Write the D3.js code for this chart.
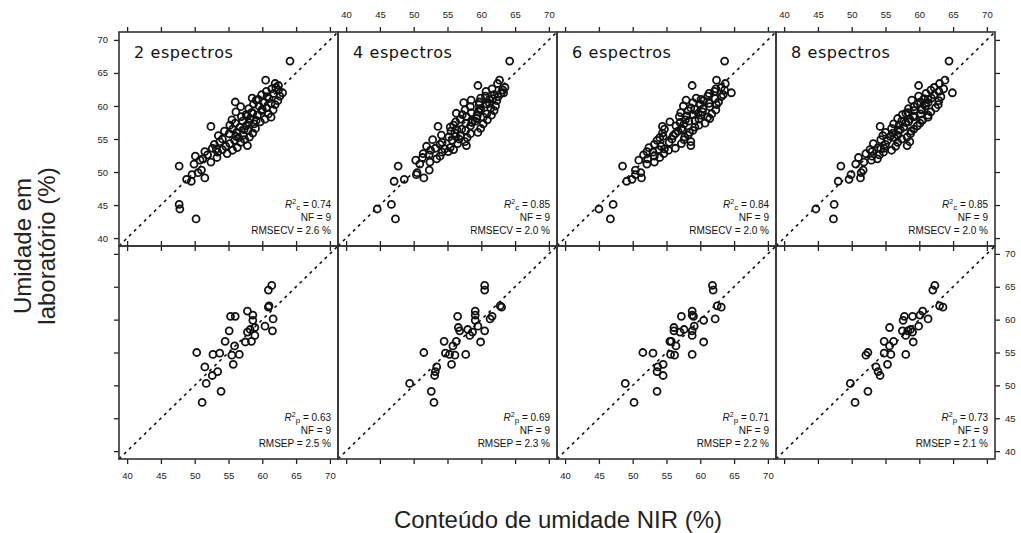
<!DOCTYPE html>
<html lang="pt">
<head>
  <meta charset="UTF-8">
  <title>Umidade NIR vs laboratório</title>
  <script src="https://d3js.org/d3.v7.min.js"></script>
  <style>
    body { margin: 0; background: #fff; }
    .tick line { stroke: #222; stroke-width: 1.3; }
    .tick text { font-family: "Liberation Sans", Arial, sans-serif; font-size: 9.5px; fill: #222; }
    .frame { fill: none; stroke: #333; stroke-width: 1.6; }
    .diag { stroke: #111; stroke-width: 1.6; stroke-dasharray: 3 4; }
    .pt { fill: none; stroke: #111; stroke-width: 1.8; }
    .panel-label { font-family: "DejaVu Sans", sans-serif; font-size: 16px; letter-spacing: 0.6px; fill: #111; }
    .stat { font-family: "Liberation Sans", Arial, sans-serif; font-size: 10px; fill: #111; text-anchor: end; }
    .axis-title { font-family: "Liberation Sans", Arial, sans-serif; font-size: 24px; fill: #222; text-anchor: middle; }
  </style>
</head>
<body>
  <div id="chart"></div>
  <script>
    // calibration set: lab moisture and NIR prediction for 2, 4, 6 and 8 spectra
    const labCal = [42.9, 44.4, 45.1, 48.6, 48.9, 49.1, 49.6, 49.9, 50.3, 50.9,
                    51.2, 51.5, 51.8, 52.0, 52.2, 52.4, 52.6, 52.8, 53.0, 53.1,
                    53.3, 53.4, 53.6, 53.7, 53.9, 54.0, 54.2, 54.3, 54.5, 54.6,
                    54.8, 54.9, 55.0, 55.2, 55.3, 55.5, 55.6, 55.8, 55.9, 56.0,
                    56.2, 56.3, 56.5, 56.6, 56.8, 56.9, 57.0, 57.1, 57.3, 57.4,
                    57.6, 57.7, 57.9, 58.0, 58.1, 58.3, 58.4, 58.6, 58.7, 58.8,
                    59.0, 59.1, 59.3, 59.4, 59.6, 59.7, 59.9, 60.0, 60.2, 60.3,
                    60.5, 60.6, 60.8, 60.9, 61.1, 61.2, 61.4, 61.5, 61.7, 61.9,
                    62.0, 62.2, 62.4, 62.6, 62.8, 63.1, 63.4, 63.9, 66.8, 55.4,
                    56.4, 57.5, 58.5, 59.5, 60.4, 53.5, 58.9, 61.0, 57.8];
    const nirCal2 = [50.2, 47.8, 47.7, 49.5, 48.8, 51.5, 49.6, 50.5, 51.0, 47.7,
                     49.9, 52.4, 50.8, 51.2, 53.3, 50.1, 51.9, 54.8, 53.4, 51.5,
                     55.6, 54.1, 52.6, 56.3, 54.6, 57.8, 52.9, 55.2, 56.8, 53.7,
                     55.9, 57.4, 54.1, 56.5, 58.1, 53.5, 57.2, 55.1, 58.6, 56.2,
                     54.4, 57.9, 55.6, 59.0, 56.7, 52.4, 57.6, 55.2, 58.8, 56.0,
                     59.7, 57.1, 55.5, 60.4, 58.2, 61.3, 56.9, 59.3, 57.6, 60.9,
                     58.4, 56.1, 59.9, 61.6, 58.0, 60.6, 56.8, 59.5, 61.9, 58.7,
                     60.2, 56.0, 62.3, 59.1, 61.0, 58.5, 60.7, 62.6, 59.9, 61.7,
                     63.0, 60.6, 62.4, 61.4, 62.0, 62.4, 61.9, 60.5, 64.1, 56.1,
                     57.3, 58.0, 57.8, 60.0, 61.3, 53.2, 58.6, 59.4, 59.1];
    const nirCal4 = [47.3, 44.6, 46.7, 47.1, 48.6, 51.5, 50.4, 50.5, 52.3, 47.7,
                     50.9, 52.4, 50.3, 53.4, 51.3, 53.9, 52.3, 51.4, 54.2, 55.1,
                     52.5, 55.9, 53.2, 55.4, 51.9, 57.8, 53.9, 56.5, 54.2, 57.6,
                     55.7, 52.8, 56.7, 57.9, 55.2, 56.9, 54.1, 58.4, 56.1, 59.5,
                     55.5, 57.7, 57.1, 59.9, 55.4, 53.6, 58.4, 55.9, 60.3, 57.7,
                     56.2, 59.1, 60.9, 56.9, 59.3, 60.3, 57.8, 61.5, 57.2, 60.8,
                     58.5, 59.6, 61.9, 57.6, 59.9, 61.4, 58.4, 62.1, 59.7, 60.8,
                     57.4, 59.7, 62.3, 58.5, 61.7, 59.9, 62.5, 60.6, 61.9, 62.9,
                     63.3, 60.7, 63.2, 61.6, 63.5, 59.5, 62.4, 62.7, 64.2, 56.2,
                     56.4, 58.6, 59.4, 59.7, 61.2, 54.6, 56.3, 61.2, 58.7];
    const nirCal6 = [46.7, 45.0, 47.1, 49.1, 49.9, 51.3, 50.4, 51.2, 50.4, 48.5,
                     52.1, 53.2, 50.9, 52.2, 54.0, 53.2, 51.6, 54.6, 53.0, 52.1,
                     55.3, 53.9, 56.3, 52.4, 54.2, 58.6, 53.2, 57.2, 55.4, 58.6,
                     53.6, 57.6, 55.8, 54.0, 57.7, 56.0, 58.2, 56.3, 54.4, 58.4,
                     56.7, 58.9, 54.7, 57.2, 59.2, 54.4, 56.4, 59.8, 57.6, 60.7,
                     55.5, 58.3, 57.8, 59.8, 61.4, 61.1, 56.9, 60.1, 58.9, 61.7,
                     57.1, 60.3, 58.2, 62.3, 60.4, 58.6, 61.4, 57.5, 62.4, 60.0,
                     58.9, 62.7, 60.5, 57.9, 62.2, 59.4, 63.1, 61.1, 63.4, 61.3,
                     64.6, 62.1, 63.6, 62.3, 63.1, 58.8, 63.7, 62.4, 63.6, 54.5,
                     57.4, 57.0, 58.0, 59.2, 61.3, 54.7, 59.7, 60.1, 59.2];
    const nirCal8 = [47.3, 44.7, 47.4, 48.0, 49.6, 51.3, 49.9, 51.4, 51.7, 48.4,
                     50.6, 51.8, 52.9, 53.8, 51.0, 53.0, 54.1, 52.1, 54.7, 53.0,
                     55.9, 52.7, 54.8, 53.9, 56.5, 58.2, 55.0, 53.2, 56.8, 58.6,
                     55.3, 54.3, 57.4, 56.3, 58.2, 54.6, 56.8, 58.7, 56.1, 55.0,
                     58.8, 56.9, 59.2, 55.9, 57.7, 54.2, 59.7, 57.0, 56.2, 60.1,
                     58.4, 57.4, 60.5, 58.6, 56.8, 61.3, 59.3, 61.3, 57.5, 60.2,
                     58.3, 61.7, 59.2, 60.3, 58.4, 62.4, 59.2, 60.9, 62.8, 59.7,
                     61.3, 60.2, 62.9, 58.9, 60.7, 61.8, 63.2, 59.9, 62.2, 61.0,
                     64.9, 62.9, 61.7, 63.6, 62.2, 59.9, 63.0, 63.8, 64.4, 55.7,
                     57.2, 58.0, 59.1, 60.4, 60.9, 54.3, 58.0, 61.3, 60.4];

    // external validation set
    const labVal = [65.2, 64.5, 62.1, 61.9, 61.3, 60.7, 60.5, 60.5, 60.1, 59.9,
                    59.0, 58.8, 58.3, 58.3, 58.1, 57.6, 56.7, 56.6, 56.7, 55.0,
                    54.9, 54.7, 54.6, 54.7, 53.2, 52.8, 52.1, 51.5, 50.3, 49.1,
                    47.4, 58.5, 56.0];
    const nirVal2 = [61.4, 60.9, 61.0, 60.9, 57.8, 58.6, 55.3, 56.0, 61.6, 58.6,
                     60.4, 58.9, 61.5, 55.1, 57.8, 58.9, 58.4, 57.5, 54.5, 50.3,
                     53.7, 52.7, 55.5, 56.6, 55.7, 51.5, 53.4, 52.6, 51.7, 53.9,
                     51.1, 58.2, 55.9];
    const nirVal4 = [60.5, 60.5, 62.8, 63.0, 59.1, 59.1, 56.5, 61.6, 61.3, 59.1,
                     59.5, 56.6, 60.5, 56.8, 58.7, 58.3, 56.3, 59.9, 54.5, 51.5,
                     54.7, 55.3, 56.1, 57.7, 55.6, 53.4, 53.2, 53.1, 49.4, 52.6,
                     53.0, 58.0, 55.8];
    const nirVal6 = [61.8, 61.9, 62.5, 63.1, 58.8, 58.8, 57.2, 59.0, 62.2, 60.5,
                     59.1, 56.1, 56.1, 58.8, 57.0, 58.8, 55.5, 60.5, 55.7, 51.5,
                     53.0, 55.6, 56.2, 58.8, 54.5, 53.7, 53.6, 54.5, 48.9, 53.6,
                     50.2, 57.6, 56.4];
    const nirVal8 = [62.3, 62.0, 63.0, 63.5, 60.5, 60.1, 57.8, 59.0, 61.3, 57.6,
                     59.9, 55.6, 57.5, 58.3, 59.0, 58.0, 56.2, 59.1, 54.8, 52.4,
                     54.8, 55.8, 52.1, 58.0, 55.3, 53.6, 53.9, 54.2, 49.8, 52.4,
                     50.5, 58.7, 55.6];

    const panelNames = ["2 espectros", "4 espectros", "6 espectros", "8 espectros"];
    const r2Cal = ["0.74", "0.85", "0.84", "0.85"];
    const rmsecv = ["2.6", "2.0", "2.0", "2.0"];
    const r2Val = ["0.63", "0.69", "0.71", "0.73"];
    const rmsep = ["2.5", "2.3", "2.2", "2.1"];
    const nf = ["9", "9", "9", "9"];
    const tickVals = [40, 45, 50, 55, 60, 65, 70];

    const nirCal = [nirCal2, nirCal4, nirCal6, nirCal8];
    const nirVal = [nirVal2, nirVal4, nirVal6, nirVal8];

    const W = 1021, H = 533;
    const domain = [38.8, 71.2];
    const colScale = d3.scaleBand().domain(d3.range(4)).range([119, 995]);
    const pw = colScale.bandwidth();
    const rows = [{ top: 32, bottom: 246 }, { top: 246, bottom: 459 }];

    const svg = d3.select("#chart").append("svg")
      .attr("width", W).attr("height", H);

    rows.forEach((row, r) => {
      const ph = row.bottom - row.top;
      d3.range(4).forEach(c => {
        const g = svg.append("g")
          .attr("transform", `translate(${colScale(c)},${row.top})`);
        const x = d3.scaleLinear().domain(domain).range([0, pw]);
        const y = d3.scaleLinear().domain(domain).range([ph, 0]);

        // 1:1 line
        g.append("line").attr("class", "diag")
          .attr("x1", x(domain[0])).attr("y1", y(domain[0]))
          .attr("x2", x(domain[1])).attr("y2", y(domain[1]));

        const lab = r === 0 ? labCal : labVal;
        const nir = r === 0 ? nirCal[c] : nirVal[c];
        g.selectAll(".pt")
          .data(lab.map((v, i) => ({ lab: v, nir: nir[i] })))
          .enter().append("circle")
          .attr("class", "pt")
          .attr("cx", d => x(d.nir))
          .attr("cy", d => y(d.lab))
          .attr("r", 3.5);

        // ticks: all panels get top/bottom ticks, outer columns get side ticks
        const addAxis = (axis, showLabels, transform, pad) => {
          const a = g.append("g").attr("transform", transform)
            .call(axis.tickValues(tickVals).tickSize(5).tickPadding(pad)
              .tickFormat(showLabels ? d3.format("d") : ""));
          a.select(".domain").remove();
          return a;
        };
        addAxis(d3.axisTop(x), r === 0 && (c === 1 || c === 3), "translate(0,0)", 9);
        addAxis(d3.axisBottom(x), r === 1 && (c === 0 || c === 2), `translate(0,${ph})`, 8);
        if (c === 0) addAxis(d3.axisLeft(y), r === 0, "translate(0,0)", 6);
        if (c === 3) addAxis(d3.axisRight(y), r === 1, `translate(${pw},0)`, 5);

        g.append("rect").attr("class", "frame")
          .attr("width", pw).attr("height", ph);

        if (r === 0) {
          g.append("text").attr("class", "panel-label")
            .attr("x", 15).attr("y", 26)
            .text(panelNames[c]);
        }

        // statistics, bottom right
        const sx = pw - 7;
        const t1 = g.append("text").attr("class", "stat")
          .attr("x", sx).attr("y", ph - 38);
        t1.append("tspan").attr("font-style", "italic").text("R");
        t1.append("tspan").attr("font-size", "7px").attr("dy", -4).text("2");
        t1.append("tspan").attr("font-size", "8px").attr("dy", 6)
          .text(r === 0 ? "c" : "p");
        t1.append("tspan").attr("dy", -2)
          .text(" = " + (r === 0 ? r2Cal[c] : r2Val[c]));
        g.append("text").attr("class", "stat")
          .attr("x", sx).attr("y", ph - 25)
          .text("NF = " + nf[c]);
        g.append("text").attr("class", "stat")
          .attr("x", sx).attr("y", ph - 12)
          .text(r === 0 ? "RMSECV = " + rmsecv[c] + " %" : "RMSEP = " + rmsep[c] + " %");
      });
    });

    // axis titles
    svg.append("text").attr("class", "axis-title")
      .attr("x", 558).attr("y", 528)
      .text("Conteúdo de umidade NIR (%)");

    const yt = svg.append("text").attr("class", "axis-title")
      .attr("transform", "translate(0,246) rotate(-90)");
    yt.append("tspan").attr("x", 0).attr("y", 31).text("Umidade em");
    yt.append("tspan").attr("x", 0).attr("y", 55).text("laboratório (%)");
  </script>
</body>
</html>
